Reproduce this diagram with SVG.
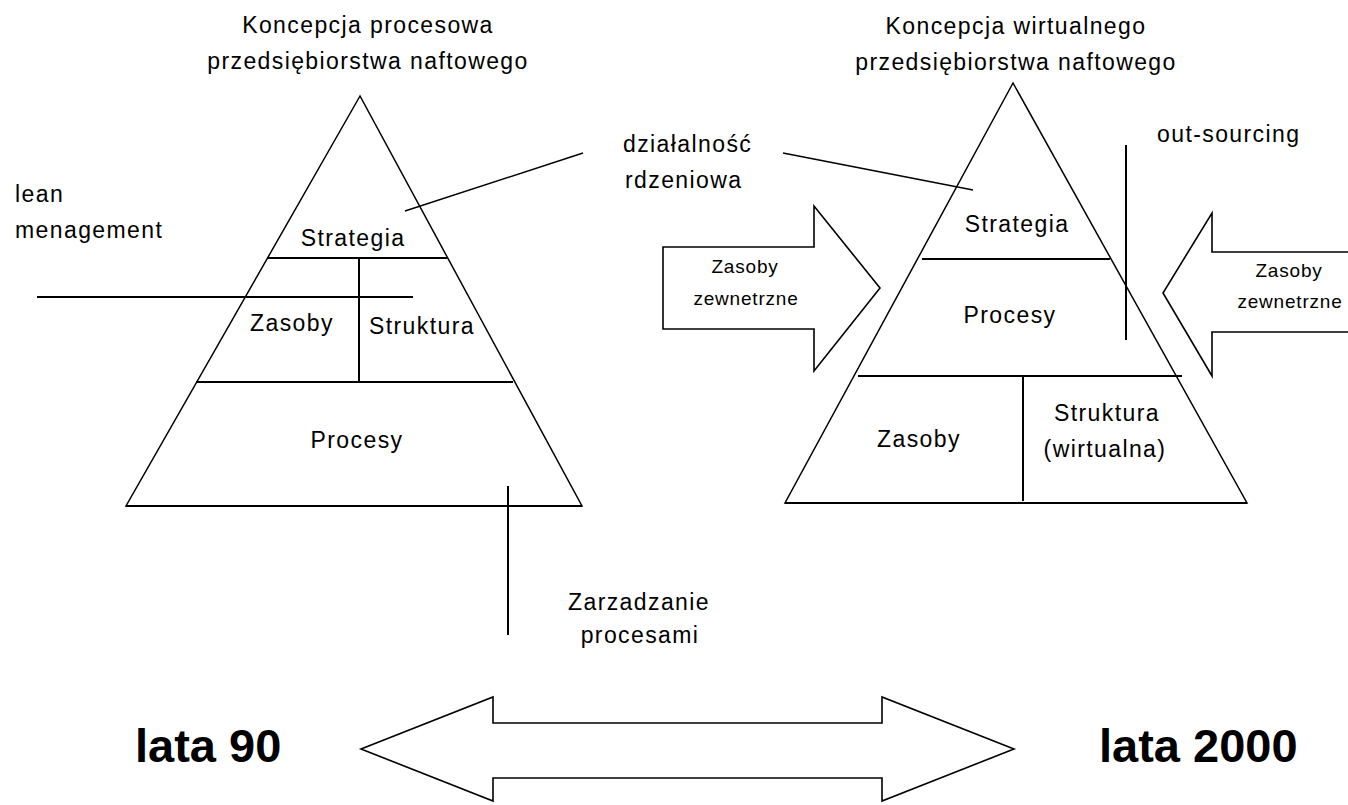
<svg xmlns="http://www.w3.org/2000/svg" width="1348" height="805" viewBox="0 0 1348 805">
  <style>
    .t { font-family: "Liberation Sans", Arial, sans-serif; font-size: 23px; letter-spacing: 1.4px; fill: #000; }
    .s { font-family: "Liberation Sans", Arial, sans-serif; font-size: 19px; letter-spacing: 0.8px; fill: #000; }
    .big { font-family: "Liberation Sans", Arial, sans-serif; font-size: 47px; font-weight: bold; fill: #000; }
    .m { text-anchor: middle; }
    .edge { fill: none; stroke: #000; stroke-width: 1.5; stroke-linejoin: miter; }
    .line { fill: none; stroke: #000; stroke-width: 2; }
    .arrow { fill: #fff; stroke: #000; stroke-width: 1.6; stroke-linejoin: miter; }
  </style>
  <rect x="0" y="0" width="1348" height="805" fill="#fff"/>

  <!-- left pyramid: process-oriented company -->
  <g id="pyramid-left">
    <text class="t m" x="368" y="33">Koncepcja procesowa</text>
    <text class="t m" x="368" y="69">przedsiębiorstwa naftowego</text>
    <polygon class="edge" points="360,96 126,506 582,506"/>
    <line class="line" x1="267" y1="258" x2="447" y2="258"/>
    <line class="line" x1="359" y1="258" x2="359" y2="382"/>
    <line class="line" x1="196" y1="382" x2="513" y2="382"/>
    <line class="line" x1="126" y1="506" x2="582" y2="506"/>
    <text class="t m" x="353" y="246">Strategia</text>
    <text class="t m" x="292" y="331">Zasoby</text>
    <text class="t m" x="422" y="334">Struktura</text>
    <text class="t m" x="357" y="448">Procesy</text>
  </g>

  <!-- right pyramid: virtual company -->
  <g id="pyramid-right">
    <text class="t m" x="1016" y="34">Koncepcja wirtualnego</text>
    <text class="t m" x="1016" y="70">przedsiębiorstwa naftowego</text>
    <polygon class="edge" points="1013,83 785,503 1247,503"/>
    <line class="line" x1="922" y1="259" x2="1110" y2="259"/>
    <line class="line" x1="858" y1="376" x2="1182" y2="376"/>
    <line class="line" x1="1023" y1="376" x2="1023" y2="501"/>
    <line class="line" x1="785" y1="503" x2="1247" y2="503"/>
    <text class="t m" x="1017" y="232">Strategia</text>
    <text class="t m" x="1010" y="323">Procesy</text>
    <text class="t m" x="919" y="447">Zasoby</text>
    <text class="t m" x="1107" y="421">Struktura</text>
    <text class="t m" x="1105" y="457">(wirtualna)</text>
  </g>

  <!-- external resources flowing in from both sides -->
  <g id="arrow-resources-left">
    <polygon class="arrow" points="663,247 814,247 814,206 880,288 814,371 814,329 663,329"/>
    <text class="s m" x="745" y="273">Zasoby</text>
    <text class="s m" x="746" y="305">zewnetrzne</text>
  </g>
  <g id="arrow-resources-right">
    <polygon class="arrow" points="1352,252 1212,252 1212,213 1163,293 1212,376 1212,332 1352,332"/>
    <text class="s m" x="1289" y="277">Zasoby</text>
    <text class="s m" x="1290" y="308">zewnetrzne</text>
  </g>

  <!-- free-standing labels -->
  <g id="label-lean">
    <text class="t" x="15" y="202">lean</text>
    <text class="t" x="15" y="238">menagement</text>
  </g>
  <g id="label-core">
    <text class="t" x="623" y="152">działalność</text>
    <text class="t" x="625" y="188">rdzeniowa</text>
  </g>
  <g id="label-outsourcing">
    <text class="t" x="1157" y="142">out-sourcing</text>
  </g>
  <g id="label-process-mgmt">
    <text class="t m" x="639" y="610">Zarzadzanie</text>
    <text class="t m" x="640" y="643">procesami</text>
  </g>

  <!-- time axis -->
  <g id="timeline">
    <polygon class="arrow" points="361,749 493,697 493,723 882,723 882,697 1014,749 882,801 882,778 493,778 493,801"/>
    <text class="big" x="135" y="762">lata 90</text>
    <text class="big" x="1099" y="762">lata 2000</text>
  </g>

  <!-- pointer lines from labels -->
  <g id="connectors">
    <line class="line" x1="37" y1="297" x2="413" y2="297"/>
    <line class="edge" x1="405" y1="211" x2="583" y2="153"/>
    <line class="edge" x1="783" y1="153" x2="973" y2="190"/>
    <line class="line" x1="1126" y1="145" x2="1126" y2="340"/>
    <line class="line" x1="508" y1="486" x2="508" y2="635"/>
  </g>
</svg>
